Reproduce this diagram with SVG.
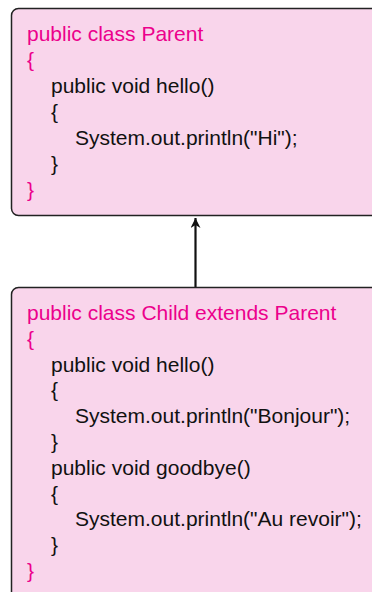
<svg xmlns="http://www.w3.org/2000/svg" width="372" height="592" viewBox="0 0 372 592">
<style>
.box{fill:#F9D5EB;stroke:#222;stroke-width:1.5}
text{font-family:"Liberation Sans",Arial,sans-serif;font-size:21px;fill:#111}
.k{fill:#EC008C}
</style>
<defs>
<marker id="ah" markerWidth="12" markerHeight="10" refX="10" refY="5" orient="auto" markerUnits="userSpaceOnUse" viewBox="0 0 10 10">
<path d="M0,0 L10,5 L0,10 L3,5 Z" fill="#111"/>
</marker>
</defs>
<g id="connectors">
<line x1="195.5" y1="287" x2="195.5" y2="218" stroke="#111" stroke-width="2.2" marker-end="url(#ah)"/>
</g>
<g id="parent">
<rect class="box" x="11.5" y="8.5" width="380" height="207" rx="7"/>
<text x="27" y="40.5" class="k">public class Parent</text>
<text x="27" y="66.5" class="k">{</text>
<text x="51" y="92.5">public void hello()</text>
<text x="51" y="118.5">{</text>
<text x="75" y="144.5">System.out.println("Hi");</text>
<text x="51" y="170.5">}</text>
<text x="27" y="196.5" class="k">}</text>
</g>
<g id="child">
<rect class="box" x="11.5" y="287.5" width="380" height="320" rx="7"/>
<text x="27" y="320" class="k">public class Child extends Parent</text>
<text x="27" y="345.8" class="k">{</text>
<text x="51" y="371.6">public void hello()</text>
<text x="51" y="397.4">{</text>
<text x="75" y="423.2">System.out.println("Bonjour");</text>
<text x="51" y="449">}</text>
<text x="51" y="474.8">public void goodbye()</text>
<text x="51" y="500.6">{</text>
<text x="75" y="526.4">System.out.println("Au revoir");</text>
<text x="51" y="552.2">}</text>
<text x="27" y="578" class="k">}</text>
</g>
</svg>
